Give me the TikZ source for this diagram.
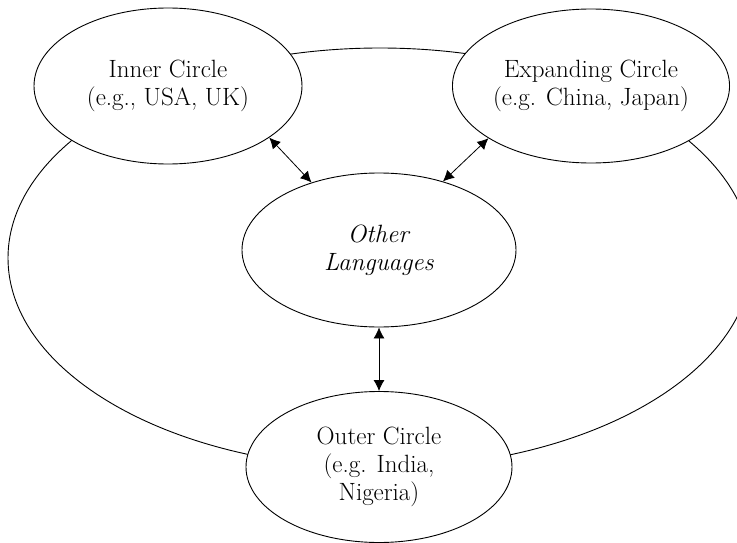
\documentclass[tikz,border=0pt]{standalone}
\usepackage{tikz}
\usetikzlibrary{shapes, arrows.meta, positioning}

\begin{document}
\begin{tikzpicture}[x=1pt, y=-1pt, line width=0.9pt,
  bubble/.style={draw, ellipse, fill=white, inner sep=0pt, align=center,
    font=\fontsize{25}{28}\selectfont},
  link/.style={{Latex[length=11pt, width=11pt]}-{Latex[length=11pt, width=11pt]}, line width=0.8pt}]

\path[use as bounding box, clip] (0,0) rectangle (737,543);

%// the ring round everything
\node [draw, ellipse, minimum width=744pt, minimum height=420pt] (ring) at (380,258) {};

\node [bubble, minimum width=268pt, minimum height=156pt] (inner) at (168,86) {Inner Circle\\(e.g., USA, UK)};
\node [bubble, minimum width=268pt, minimum height=154pt] (expanding) at (591,86) {Expanding Circle\\(e.g. China, Japan)};
\node [bubble, minimum width=274pt, minimum height=154pt] (other) at (379,250) {\textit{Other}\\\textit{Languages}};
\node [bubble, minimum width=266pt, minimum height=151pt] (outer) at (379,467) {Outer Circle\\(e.g. India,\\Nigeria)};

\draw [link] (inner.-27.5) -- (other.135);
\draw [link] (expanding.-153) -- (other.47);
\draw [link] (other.south) -- (outer.north);
\end{tikzpicture}
\end{document}
